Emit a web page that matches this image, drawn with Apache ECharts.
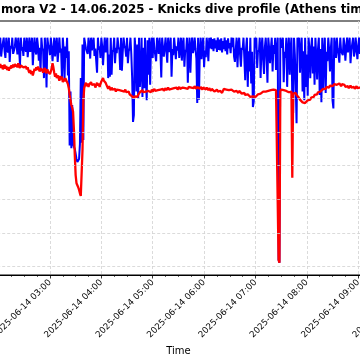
<!DOCTYPE html>
<html><head><meta charset="utf-8">
<script src="https://cdn.jsdelivr.net/npm/echarts@6/dist/echarts.min.js"></script>
<style>html,body{margin:0;padding:0;background:#fff}#c{width:360px;height:360px}</style>
</head><body><div id="c"></div>
<script>
const titleText = 'mora V2 - 14.06.2025 - Knicks dive profile (Athens time)';
const sampleDate = '2025-06-14';
const sampleStartMinutes = 120; // first sample 02:00
const sampleStepMinutes = 1;
const depthGridTicks = [5, 10, 15, 20, 25, 30];

const blueDepth = [
-4,-2.6,-4,-1.2,-2.4,-2.2,-4,-2.0,-1.0,-4,
-2.3,-1.8,-4,-0.4,-2.8,-2.4,-4,-1.6,-2.1,-2.7,
-4,-2.9,-1.5,-4,-2.2,0.1,-4,-2.1,-2.6,-1.3,
-4,-2.5,-1.9,-4,-1.1,-2.6,-4,-1.9,-2.4,-4,
0.1,-2.2,-4,-2.0,-1.5,-4,-2.8,-0.6,-2.5,1.0,
-4,-2.4,-2.1,2.0,-4,-1.7,3.4,-4,-2.9,-2.6,
-1.4,-4,-2.6,-0.5,-2.2,-4,-1.2,-2.8,-4,-0.4,
-2.0,-4,-1.8,-2.4,1.9,-4,-2.2,2.3,-2.7,-1.0,
-4,1.6,-2.0,
12.0,4.0,12.4,6.0,11.8,12.2,12.5,13.2,14.0,14.45,14.45,14.0,11.8,2.0,11.6,-3.0,11.2,-4,
-4,-2.4,-2.3,-1.6,-4,-2.9,-0.9,-4,-2.1,-2.0,
-4,-1.3,-2.4,-2.6,1.2,-4,-2.2,-2.7,-1.0,-4,
-2.7,0.1,-2.2,-4,-1.8,-2.9,-4,2.0,-1.5,1.8,
-4,1.5,-1.9,-2.2,-4,-0.2,-2.5,-1.7,-4,-2.6,
-2.2,0.8,-4,0.9,-1.9,-4,-2.8,-2.4,-1.2,-4,
-0.2,-2.0,-2.4,-4,-1.6,2.0,8.5,
7.5,-4,-2.0,4.0,-3.0,5.0,-4,3.3,1.0,-4,4.8,-2.5,3.5,-4,2.2,5.3,-3.6,1.5,-4,3.0,-2.8,-4,-1.0,
-4,-2.3,-2.2,-0.5,-4,-2.8,-1.6,-4,-2.0,1.9,
-4,-2.5,-1.2,-2.5,-4,-2.0,-0.3,-4,-1.9,-2.2,
-4,1.8,-2.3,-1.4,-4,-2.6,-0.8,-2.7,-2.1,-4,-1.0,-2.2,
-4,-0.6,-2.9,-4,0.3,-2.2,-1.9,-4,
2.7,-2.0,-4,1.2,-2.5,-4,
-1.7,-2.4,-4,-2.4,-0.9,
5.7,-4,5.2,-2.0,
-4,-0.8,-2.6,-4,0.4,-2.1,-1.1,-4,-2.7,-0.5,-4,-2.4,
-4,-2.3,-3.8,-2.0,-3.9,-2.4,-3.6,-1.9,-4,-2.2,-3.7,-2.1,-3.9,-1.8,-3.5,-2.3,-4,-2.0,-3.6,-1.5,-3.9,-2.4,-3.2,-1.7,-4,
-2.6,-4,-1.2,-0.4,-2.3,-4,0.4,-2.8,
-4,-1.5,0.3,-2.5,-2.2,-4,-1.0,
2.3,-2.3,-4,3.3,-2.0,1.0,-4,2.8,-1.9,
6.3,5.5,-4,-2.5,
-4,0.5,-2.1,-1.8,-4,2.0,-2.6,-4,-0.7,1.4,-2.6,-4,
-1.3,2.7,-4,-2.4,-0.2,-2.4,-4,1.0,-2.9,-1.6,-4,0.8,-2.2,
-4,29.0,29.4,-4,-4,-2.5,-4,2.6,-1.9,-1.0,-4,3.3,-2.2,-4,1.5,-2.3,-4,5.0,7.2,-4,-1.5,3.0,8.7,-4,
-2.8,-4,1.2,-2.1,-4,4.0,-2.0,5.3,-4,3.3,-1.5,4.6,-4,-2.4,2.0,-2.4,
-4,1.3,-2.7,3.0,-4,-1.2,2.2,-2.3,-4,4.5,-2.3,5.6,-4,3.8,-1.8,
-4,4.2,-1.9,-0.5,-4,-2.2,1.0,-2.4,-4,5.3,6.5,-4,-2.6,-1.0,-4,
-2.4,-2.5,-0.3,-4,-2.0,-2.1,-1.4,-4,-2.8,-0.6,-2.5,-4,-1.8,-2.9,-4,-0.2,-2.2,-2.1,-4,-1.2,-1.9,-4,-2.5,-0.8,-2.6,-4,-1.6,-2.7,-4,-2.2
];

const redDepth = [
-0.4,0.2,-0.1,0.5,0.1,0.7,0.3,0.0,0.6,0.2,
0.8,0.4,0.9,0.3,0.6,0.1,0.5,0.0,0.4,-0.1,
0.3,0.0,0.4,-0.2,0.2,0.5,0.1,0.3,-0.1,0.4,
0.2,0.6,0.3,0.7,0.4,0.9,1.2,0.8,1.4,1.0,
1.6,1.1,0.6,0.9,0.4,0.8,0.3,0.7,1.0,0.5,
0.9,0.6,1.2,0.8,0.5,1.0,1.3,0.7,1.1,0.9,
1.4,1.0,0.6,-0.2,0.4,1.2,1.8,1.3,2.0,1.6,
1.9,2.4,1.7,2.2,1.8,2.6,2.1,2.5,2.0,2.3,
2.6,2.9,3.5,4.5,5.3,6.0,6.4,7.0,9.7,13.4,16.4,17.6,17.9,18.2,18.6,19.1,19.5,19.6,12.7,5.3,3.5,
3.0,2.7,3.2,2.8,3.3,2.9,3.1,2.6,3.0,2.8,
3.2,2.9,3.4,3.0,2.7,3.1,2.8,3.3,2.9,2.5,
2.3,2.0,2.4,2.2,2.7,3.0,3.3,3.6,3.2,3.5,
3.8,3.4,3.7,3.5,3.9,3.6,4.0,3.7,3.9,3.6,
3.8,4.0,3.7,3.9,4.1,3.8,4.0,3.7,4.1,3.9,
4.2,4.0,4.4,4.6,4.3,4.7,4.9,
5.0,4.7,4.9,4.6,4.8,4.5,4.3,4.1,
3.9,4.2,3.8,4.1,3.9,4.2,4.0,3.8,4.1,3.9,
4.0,3.8,4.1,3.7,4.0,3.8,3.6,3.9,3.7,4.0,
3.8,3.6,3.9,3.7,3.5,3.8,3.6,3.9,3.7,3.5,
3.8,3.6,3.4,3.7,3.5,3.8,3.6,3.4,3.7,3.5,
3.3,3.6,3.4,3.7,3.5,3.3,3.6,
3.5,3.7,3.4,3.6,3.3,3.5,3.7,3.4,3.6,3.3,
3.5,3.2,3.4,3.6,3.3,3.5,3.2,3.4,3.6,3.3,
3.5,3.4,3.6,3.3,3.5,3.7,3.4,3.6,3.5,3.7,
3.4,3.6,3.8,3.5,3.7,3.9,3.6,3.8,3.7,4.0,
3.8,3.9,3.7,4.0,3.8,4.1,3.9,4.0,4.2,3.9,
3.6,3.8,3.5,3.7,3.9,3.6,3.8,3.7,3.9,3.7,
3.9,3.8,4.0,3.8,4.1,3.9,4.0,4.2,3.9,4.1,
4.0,4.3,4.1,4.4,4.2,4.5,4.3,4.6,4.4,4.6,
4.5,4.8,4.6,4.8,4.7,4.9,4.7,4.8,
4.6,4.7,4.4,4.5,4.2,4.3,4.1,4.2,4.0,4.1,
3.9,4.0,3.8,4.0,3.9,3.7,3.9,3.8,3.6,3.8,
3.7,3.9,3.6,3.8,3.7,
3.8,29.0,29.4,4.0,3.7,3.9,3.6,3.8,3.9,3.7,3.9,4.0,3.8,4.1,3.9,4.2,4.0,16.8,4.3,4.1,4.4,4.2,4.5,4.7,
4.8,5.0,5.2,5.1,5.4,5.6,5.5,5.8,5.7,5.5,5.6,5.3,5.4,5.1,5.2,4.9,
5.0,4.7,4.8,4.5,4.6,4.3,4.4,4.1,4.2,3.9,4.0,3.8,3.9,3.6,3.7,
3.5,3.6,3.3,3.5,3.2,3.4,3.1,3.3,3.0,3.2,3.0,2.9,3.1,2.8,3.0,
2.9,3.1,2.8,3.0,3.2,2.9,3.1,2.8,3.0,3.3,3.1,3.4,3.2,3.5,3.3,3.1,3.4,3.2,3.5,3.3,3.6,3.4,3.2,3.5,3.3,3.6,3.4,3.2,3.5,3.3
];

function toPairs(arr) {
  return arr.map((v, i) => [sampleStartMinutes + i * sampleStepMinutes, v]);
}
function fmtTime(m) {
  const h = Math.floor(m / 60), mm = Math.round(m % 60);
  return sampleDate + ' ' + String(h).padStart(2, '0') + ':' + String(mm).padStart(2, '0');
}

const chart = echarts.init(document.getElementById('c'), null, {renderer: 'canvas'});
const gridStyle = {color: '#d2d2d2', type: [3, 2], width: 0.8};
chart.setOption({
  animation: false,
  backgroundColor: '#fff',
  title: {
    text: titleText, left: 1, top: 4, padding: 0,
    textStyle: {fontFamily: 'DejaVu Sans', fontWeight: 'bold', fontSize: 11.8, color: '#000'}
  },
  grid: {left: -52.8, top: 21, width: 462.4, height: 254, show: true, borderColor: '#000', borderWidth: 1,
    containLabel: false, outerBoundsMode: 'none'},
  xAxis: {
    type: 'value', min: 60, max: 600, interval: 60,
    axisLine: {onZero: false, lineStyle: {color: '#000', width: 1}},
    axisTick: {length: 3.5, lineStyle: {color: '#000', width: 0.8}},
    minorTick: {show: true, splitNumber: 4, length: 2, lineStyle: {color: '#000', width: 0.6}},
    splitLine: {show: true, lineStyle: gridStyle},
    axisLabel: {rotate: 45, formatter: fmtTime, fontSize: 8.7, fontFamily: 'DejaVu Sans', color: '#000', margin: 6},
    name: 'Time', nameLocation: 'middle', nameGap: 64,
    nameTextStyle: {fontSize: 10, fontFamily: 'DejaVu Sans', color: '#000'}
  },
  yAxis: {
    type: 'value', inverse: true, min: -6.476, max: 31.23,
    axisLine: {show: false, onZero: false}, axisTick: {show: false}, axisLabel: {show: false}, splitLine: {show: false}
  },
  series: [
    {
      type: 'line', data: [], z: 1, silent: true,
      markLine: {silent: true, symbol: 'none', label: {show: false}, lineStyle: gridStyle, animation: false,
        data: depthGridTicks.map(v => ({yAxis: v}))}
    },
    {
      name: 'blue', type: 'line', data: toPairs(blueDepth), z: 3, showSymbol: false,
      lineStyle: {color: '#0000ff', width: 2}, itemStyle: {color: '#0000ff'}
    },
    {
      name: 'red', type: 'line', data: toPairs(redDepth), z: 4, showSymbol: false,
      lineStyle: {color: '#ff0000', width: 2.3}, itemStyle: {color: '#ff0000'}
    }
  ]
});
</script>
</body></html>
